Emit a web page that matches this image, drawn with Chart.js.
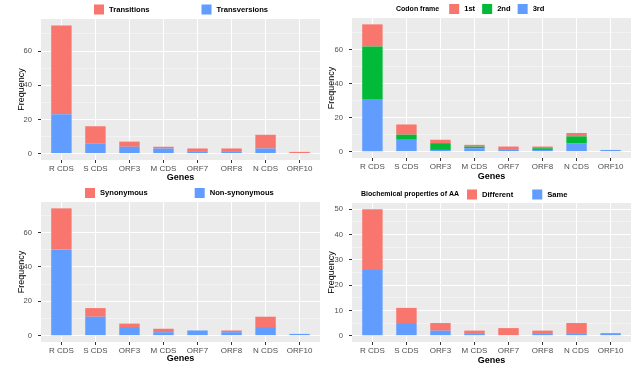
<!DOCTYPE html>
<html>
<head>
<meta charset="utf-8">
<script src="https://cdn.jsdelivr.net/npm/chart.js@4.4.1/dist/chart.umd.min.js"></script>
<style>
  body { margin: 0; background: #fff; }
  #wrap { position: relative; width: 640px; height: 366px; }
  .panel { position: absolute; width: 320px; height: 183px; }
</style>
</head>
<body>
<div id="wrap">
  <div class="panel" style="left:0;top:0"><canvas id="c1" width="320" height="183"></canvas></div>
  <div class="panel" style="left:320px;top:0"><canvas id="c2" width="320" height="183"></canvas></div>
  <div class="panel" style="left:0;top:183px"><canvas id="c3" width="320" height="183"></canvas></div>
  <div class="panel" style="left:320px;top:183px"><canvas id="c4" width="320" height="183"></canvas></div>
</div>
<script>
var genes = ['R CDS', 'S CDS', 'ORF3', 'M CDS', 'ORF7', 'ORF8', 'N CDS', 'ORF10'];

// panel 1
var transversions = [23, 6, 4, 3, 1, 1, 3, 0];
var transitions = [52, 10, 3, 1, 2, 2, 8, 1];
// panel 2
var codon3rd = [31, 7, 1, 2, 1, 1, 5, 1];
var codon2nd = [31, 3, 4, 1, 0, 1, 4, 0];
var codon1st = [13, 6, 2, 1, 2, 1, 2, 0];
// panel 3
var nonSynonymous = [50, 11, 5, 2, 3, 2, 5, 1];
var synonymous = [24, 5, 2, 2, 0, 1, 6, 0];
// panel 4
var sameAA = [26, 5, 2, 1, 0, 1, 1, 1];
var differentAA = [24, 6, 3, 1, 3, 1, 4, 0];

var yTicks60 = [0, 20, 40, 60];
var yTicks50 = [0, 10, 20, 30, 40, 50];

var RED = '#F8766D', GREEN = '#00BA38', BLUE = '#619CFF';
var FONT = "'Liberation Sans', Arial, sans-serif";
Chart.defaults.font.family = FONT;

const panelBg = {
    id: 'panelBg',
    beforeDraw(chart) {
        const a = chart.chartArea, ctx = chart.ctx;
        ctx.save();
        ctx.fillStyle = '#EBEBEB';
        ctx.fillRect(a.left, a.top, a.right - a.left, a.bottom - a.top);
        ctx.restore();
    }
};

// ggplot-like legend: optional title inline, then boxes + labels (top of stack first)
const ggLegend = {
    id: 'ggLegend',
    afterDraw(chart, args, opts) {
        const ctx = chart.ctx;
        let x = opts.x;
        ctx.save();
        ctx.textBaseline = 'middle';
        ctx.textAlign = 'left';
        if (opts.title) {
            ctx.fillStyle = '#000';
            ctx.font = 'bold 7px ' + FONT;
            ctx.fillText(opts.title, x, opts.y);
            x += ctx.measureText(opts.title).width + opts.titleGap;
        }
        ctx.font = 'bold 7.6px ' + FONT;
        chart.data.datasets.slice().reverse().forEach(d => {
            ctx.fillStyle = d.backgroundColor;
            ctx.fillRect(x, opts.y - 5, 10, 10);
            x += 15;
            ctx.fillStyle = '#000';
            ctx.fillText(d.label, x, opts.y);
            x += ctx.measureText(d.label).width + opts.gap;
        });
        ctx.restore();
    }
};

function make_panel(id, datasets, majors, area, pads, legend) {
    let total = genes.map((g, i) => datasets.reduce((s, d) => s + d.data[i], 0));
    let top = Math.max(...total);
    let yMin = -top * 0.05, yMax = top * 1.05;
    let step = majors[1] - majors[0];
    let all = majors.slice();
    majors.forEach(v => { if (v + step / 2 <= yMax) all.push(v + step / 2); });
    all.sort((a, b) => a - b);
    let isMajor = v => majors.indexOf(v) >= 0;

    return new Chart(document.getElementById(id), {
        type: 'bar',
        data: { labels: genes, datasets: datasets },
        plugins: [panelBg, ggLegend],
        options: {
            responsive: false,
            animation: false,
            layout: { padding: { top: area.top, right: 320 - area.right, bottom: 0, left: 0 } },
            datasets: { bar: { categoryPercentage: 1, barPercentage: 0.6 } },
            scales: {
                x: {
                    stacked: true,
                    offset: false,
                    afterBuildTicks: (s) => { s._startValue = -0.6; s._valueRange = genes.length - 1 + 1.2; },
                    afterFit: (s) => { s.height = 183 - area.bottom; s.paddingLeft = 0; s.paddingRight = 0; },
                    grid: { offset: false, color: '#FFFFFF', lineWidth: 1, tickColor: '#333333', tickLength: 3, tickWidth: 1 },
                    border: { display: false },
                    ticks: { color: '#4D4D4D', font: { size: 8 }, padding: 1, maxRotation: 0, autoSkip: false },
                    title: { display: true, text: 'Genes', color: '#000', font: { size: 9, weight: 'bold' }, padding: { top: 0, bottom: pads.x } },
                },
                y: {
                    stacked: true,
                    min: yMin,
                    max: yMax,
                    afterBuildTicks: (s) => { s.min = yMin; s.max = yMax; s.ticks = all.map(v => ({ value: v })); },
                    afterFit: (s) => { s.width = area.left; s.paddingTop = 0; s.paddingBottom = 0; },
                    grid: {
                        color: (c) => (c.tick && isMajor(c.tick.value)) ? '#FFFFFF' : 'rgba(255,255,255,0.6)',
                        lineWidth: (c) => (c.tick && isMajor(c.tick.value)) ? 1 : 0.7,
                        tickColor: (c) => (c.tick && isMajor(c.tick.value)) ? '#333333' : 'rgba(0,0,0,0)',
                        tickLength: 3,
                        tickWidth: 1,
                    },
                    border: { display: false },
                    ticks: {
                        color: '#4D4D4D', font: { size: 7.6 }, padding: 6, autoSkip: false,
                        callback: (v) => isMajor(v) ? String(v) : '',
                    },
                    title: { display: true, text: 'Frequency', color: '#000', font: { size: 9 }, padding: { top: pads.y, bottom: 0 } },
                },
            },
            plugins: {
                legend: { display: false },
                tooltip: { enabled: false },
                ggLegend: legend,
            },
        },
    });
}

make_panel('c1', [
    { label: 'Transversions', data: transversions, backgroundColor: BLUE },
    { label: 'Transitions', data: transitions, backgroundColor: RED },
], yTicks60, { left: 41, right: 320, top: 19, bottom: 160 }, { x: 0, y: 16 },
   { x: 94, y: 9.5, gap: 52 });

make_panel('c2', [
    { label: '3rd', data: codon3rd, backgroundColor: BLUE },
    { label: '2nd', data: codon2nd, backgroundColor: GREEN },
    { label: '1st', data: codon1st, backgroundColor: RED },
], yTicks60, { left: 32, right: 311, top: 18, bottom: 158 }, { x: 1, y: 6 },
   { title: 'Codon frame', titleGap: 10, x: 76, y: 9, gap: 7 });

make_panel('c3', [
    { label: 'Non-synonymous', data: nonSynonymous, backgroundColor: BLUE },
    { label: 'Synonymous', data: synonymous, backgroundColor: RED },
], yTicks60, { left: 41, right: 320, top: 19, bottom: 159 }, { x: 2, y: 16 },
   { x: 85, y: 10, gap: 47 });

make_panel('c4', [
    { label: 'Same', data: sameAA, backgroundColor: BLUE },
    { label: 'Different', data: differentAA, backgroundColor: RED },
], yTicks50, { left: 32, right: 311, top: 20, bottom: 159 }, { x: 0, y: 6 },
   { title: 'Biochemical properties of AA', titleGap: 8, x: 41, y: 11.5, gap: 19 });
</script>
</body>
</html>
